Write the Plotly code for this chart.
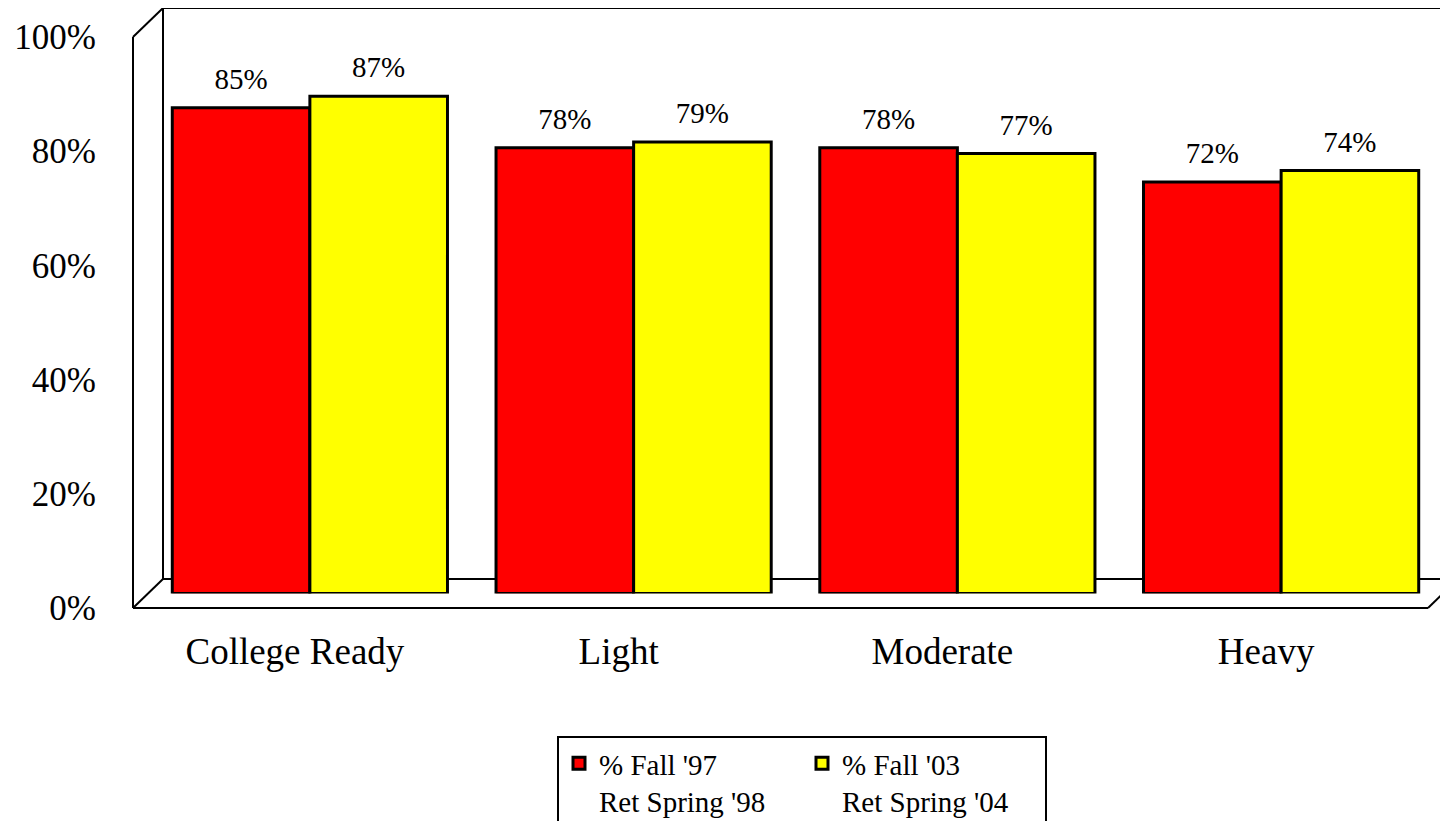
import plotly.graph_objects as go

# ---------------- data ----------------
categories = ["College Ready", "Light", "Moderate", "Heavy"]
fall97_ret_spring98 = [0.85, 0.78, 0.78, 0.72]
fall03_ret_spring04 = [0.87, 0.79, 0.77, 0.74]
series_names = ["% Fall '97<br>Ret Spring '98", "% Fall '03<br>Ret Spring '04"]
series_colors = ["#FF0000", "#FFFF00"]
y_tick_values = [0, 0.2, 0.4, 0.6, 0.8, 1.0]

# ---------------- layout geometry (pixels) ----------------
PAGE_PAD = 8                               # default body margin of the html page
W, H = 1448 - PAGE_PAD, 821 - PAGE_PAD
ML, MR, MT, MB = 125, 5, 14, 213
PW, PH = W - ML - MR, H - MT - MB          # paper size in px
FRONT_W, FRONT_H = 1295, 571               # front plane of the pseudo-3D box
DEPTH_X, DEPTH_Y = 30, 29                  # depth of the box (back wall offset)


def pxx(x):  # page pixel -> paper x
    return (x - PAGE_PAD - ML) / PW


def pxy(y):  # page pixel -> paper y
    return (H - MB - (y - PAGE_PAD)) / PH


FONT = "Liberation Serif, Times New Roman, serif"

fig = go.Figure()

series = [fall97_ret_spring98, fall03_ret_spring04]
for name, vals, col in zip(series_names, series, series_colors):
    fig.add_trace(go.Bar(
        x=categories, y=vals, name=name,
        xaxis="x2", yaxis="y2",
        marker=dict(color=col, line=dict(color="black", width=3)),
        cliponaxis=False, hoverinfo="x+y",
    ))

# value labels, grouped like the bars
for name, vals in zip(series_names, series):
    fig.add_trace(go.Scatter(
        x=categories, y=vals, xaxis="x2", yaxis="y2",
        mode="markers+text", marker=dict(size=17, opacity=0),
        text=[f"{v:.0%}" for v in vals], textposition="top center",
        textfont=dict(family=FONT, size=29, color="black"),
        showlegend=False, hoverinfo="skip", cliponaxis=False,
    ))

# invisible trace so the front (label) axes exist
fig.add_trace(go.Scatter(x=[0], y=[0], xaxis="x", yaxis="y", mode="markers",
                         marker=dict(opacity=0), showlegend=False, hoverinfo="skip"))

# frame lines of the pseudo-3D box (paper coordinates)
x0f, x1f = 0, FRONT_W / PW
y0f, y1f = 0, FRONT_H / PH
dx, dy = DEPTH_X / PW, DEPTH_Y / PH
line = dict(color="black", width=2)
segs = [
    (x0f, y1f, x0f, y0f),                 # front left edge
    (x0f, y1f, x0f + dx, y1f + dy),       # top-left diagonal
    (x0f, y0f, x0f + dx, y0f + dy),       # bottom-left diagonal
    (x0f, y0f, x1f, y0f),                 # front floor edge
    (x1f, y0f, x1f + dx, y0f + dy),       # bottom-right diagonal
    (x0f + dx, y0f + dy, x1f + dx, y0f + dy),  # back floor edge
    (x0f + dx, y0f + dy, x0f + dx, y1f + dy),  # back wall left edge
    (x0f + dx, y1f + dy, x1f + dx, y1f + dy),  # back wall top edge
]
shapes = [dict(type="line", xref="paper", yref="paper", x0=a, y0=b, x1=c, y1=d,
               line=line, layer="below") for a, b, c, d in segs]

axis_common = dict(showgrid=False, zeroline=False, showline=False, ticks="")

fig.update_layout(
    width=W, height=H,
    margin=dict(l=ML, r=MR, t=MT, b=MB, autoexpand=False),
    paper_bgcolor="white", plot_bgcolor="rgba(0,0,0,0)",
    font=dict(family=FONT, color="black"),
    barmode="group", bargap=0.15, bargroupgap=0,
    scattermode="group", scattergap=0.15,
    showlegend=True,
    xaxis=dict(domain=[0, FRONT_W / PW], range=[-0.5, 3.5],
               tickvals=list(range(len(categories))), ticktext=categories,
               tickfont=dict(size=37), ticklabelstandoff=18, anchor="y", **axis_common),
    yaxis=dict(domain=[0, FRONT_H / PH], range=[0, 1], tickvals=y_tick_values,
               tickformat=".0%", tickfont=dict(size=35), ticklabelstandoff=36,
               anchor="x", **axis_common),
    xaxis2=dict(domain=[(DEPTH_X / 2) / PW, 1], range=[-0.5, 3.5], anchor="y2",
                visible=False, **axis_common),
    yaxis2=dict(domain=[(DEPTH_Y / 2) / PH, 1], range=[0, 1], anchor="x2",
                visible=False, **axis_common),
    legend=dict(orientation="h", x=pxx(557), y=pxy(736), xanchor="left", yanchor="top",
                bordercolor="black", borderwidth=2, bgcolor="white",
                font=dict(family=FONT, size=29), valign="top",
                entrywidth=198, entrywidthmode="pixels", traceorder="normal"),
    shapes=shapes,
)

fig.write_html("out.html")
